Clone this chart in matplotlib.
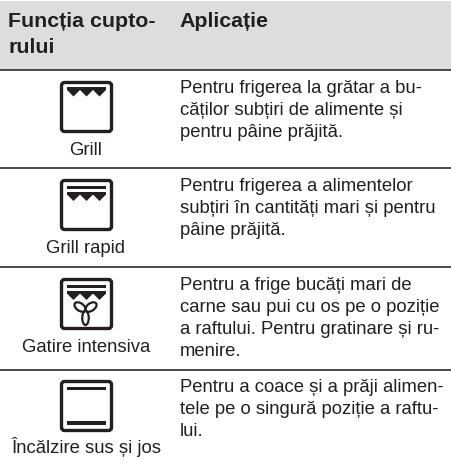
import matplotlib
matplotlib.use('Agg')
import matplotlib.pyplot as plt
from matplotlib.patches import FancyBboxPatch, Polygon, Rectangle, Ellipse

plt.rcParams['font.family'] = ['Liberation Sans', 'DejaVu Sans']

header_left = ['Funcția cupto-', 'rului']
header_right = 'Aplicație'
labels = ['Grill', 'Grill rapid', 'Gatire intensiva', 'Încălzire sus și jos']
descriptions = [
    ['Pentru frigerea la grătar a bu-', 'căților subțiri de alimente și', 'pentru pâine prăjită.'],
    ['Pentru frigerea a alimentelor', 'subțiri în cantități mari și pentru', 'pâine prăjită.'],
    ['Pentru a frige bucăți mari de', 'carne sau pui cu os pe o poziție', 'a raftului. Pentru gratinare și ru-', 'menire.'],
    ['Pentru a coace și a prăji alimen-', 'tele pe o singură poziție a raftu-', 'lui.'],
]
# what each icon has inside its frame
icon_parts = [
    ['teeth'],
    ['bar', 'teeth'],
    ['bar', 'teeth', 'fan'],
    ['bar', 'bottom'],
]

row_lines = [70, 168, 267, 369.5]
icon_tops = [81, 179, 278, 380]
label_base = [154.5, 252.7, 352, 453]
text_base = [92.7, 191, 290, 392]
line_step = 22
TEXT_COL = '#231f20'

fig = plt.figure(figsize=(4.51, 4.65), dpi=100)
ax = fig.add_axes([0, 0, 1, 1])
ax.set_xlim(0, 451)
ax.set_ylim(465, 0)
ax.axis('off')


def draw_icon(top, parts):
    left, size = 61.5, 50
    ax.add_patch(FancyBboxPatch((left, top + 1.5), size, size - 1,
                                boxstyle='round,pad=0,rounding_size=3',
                                fc='white', ec=TEXT_COL, lw=2.4))
    x0, x1 = left + 5.5, left + size - 5.5
    if 'bar' in parts:
        ax.add_patch(Rectangle((x0, top + 6.5), x1 - x0, 3.8, fc=TEXT_COL, ec='none'))
    if 'teeth' in parts:
        ty = top + (13 if 'bar' in parts else 6.5)
        w = (x1 - x0) / 3
        ax.add_patch(Rectangle((x0, ty), x1 - x0, 3, fc=TEXT_COL, ec='none'))
        for i in range(3):
            ax.add_patch(Polygon([(x0 + i * w, ty + 2.5), (x0 + (i + 1) * w, ty + 2.5),
                                  (x0 + (i + 0.5) * w, ty + 9)],
                                 fc=TEXT_COL, ec='none'))
    if 'bottom' in parts:
        ax.add_patch(Rectangle((x0, top + 41), x1 - x0, 3.8, fc=TEXT_COL, ec='none'))
    if 'fan' in parts:
        cx = left + size / 2 - 1
        ax.add_patch(Ellipse((cx, top + 40), 6.5, 14, fc='none', ec=TEXT_COL, lw=1.6))
        ax.add_patch(Ellipse((cx - 5.5, top + 29), 12.5, 7.5, angle=35, fc='none', ec=TEXT_COL, lw=1.6))
        ax.add_patch(Ellipse((cx + 5.5, top + 29), 12.5, 7.5, angle=-35, fc='none', ec=TEXT_COL, lw=1.6))


ax.add_patch(Rectangle((0, 1), 451, 69, fc='#dcddde', ec='none'))
for y in row_lines:
    ax.plot([0, 451], [y, y], color='#3a3a3c', lw=1.3, solid_capstyle='butt')

for i, s in enumerate(header_left):
    ax.text(8, 27 + i * 26, s, fontsize=15.4, fontweight='bold', color=TEXT_COL, va='baseline')
ax.text(179, 27, header_right, fontsize=15.4, fontweight='bold', color=TEXT_COL, va='baseline')

for i in range(4):
    draw_icon(icon_tops[i], icon_parts[i])
    ax.text(86, label_base[i], labels[i], fontsize=13.3, color=TEXT_COL, ha='center', va='baseline')
    for j, s in enumerate(descriptions[i]):
        ax.text(179.5, text_base[i] + j * line_step, s, fontsize=13.3, color=TEXT_COL, va='baseline')

fig.savefig('out.png', dpi=100)
